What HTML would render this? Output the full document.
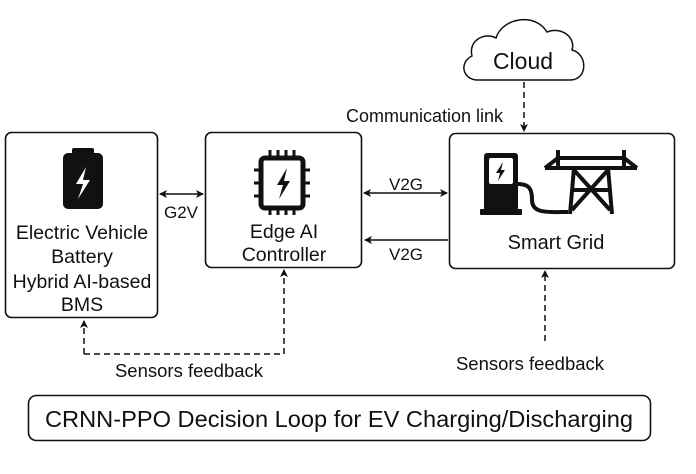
<!DOCTYPE html>
<html><head><meta charset="utf-8"><style>
html,body{margin:0;padding:0;background:#fff;}
svg{display:block;}
text{font-family:"Liberation Sans",Arial,sans-serif;fill:#111;}
</style></head><body>
<svg width="696" height="474" viewBox="0 0 696 474" xmlns="http://www.w3.org/2000/svg">
<defs>
<marker id="ah" markerWidth="8" markerHeight="8" refX="7" refY="4" orient="auto-start-reverse" markerUnits="userSpaceOnUse">
<path d="M0,0 L8,4 L0,8 L2,4 z" fill="#111"/>
</marker>
</defs>
<rect width="696" height="474" fill="#fff"/>
<rect x="5.5" y="132.5" width="152" height="185" rx="6" fill="none" stroke="#111" stroke-width="1.6"/>
<rect x="205.5" y="132.5" width="156" height="135" rx="6" fill="none" stroke="#111" stroke-width="1.6"/>
<rect x="449.5" y="133.5" width="225" height="135" rx="6" fill="none" stroke="#111" stroke-width="1.6"/>
<rect x="28.5" y="395.5" width="622" height="45" rx="8" fill="none" stroke="#111" stroke-width="1.6"/>
<path d="M478,80 C462,80 459,62 472,56 C468,40 485,32 496,38 C502,18 535,12 547,32 C562,26 576,38 572,50 C588,54 588,80 570,80 Z" fill="#fff" stroke="#111" stroke-width="1.5"/>
<text x="523" y="69" font-size="23" text-anchor="middle">Cloud</text>
<line x1="524" y1="82" x2="524" y2="131" stroke="#111" stroke-width="1.5" stroke-dasharray="6,4" marker-end="url(#ah)"/>
<text x="346" y="122" font-size="18" textLength="157" lengthAdjust="spacingAndGlyphs">Communication link</text>
<rect x="63" y="153" width="40" height="56" rx="5" fill="#111"/>
<rect x="72" y="148" width="22" height="7" rx="2" fill="#111"/>
<path d="M86,167 L76,184 L83,184 L78,199 L90,180 L83,180 Z" fill="#fff"/>
<rect x="261" y="158" width="42" height="50" rx="4" fill="none" stroke="#111" stroke-width="5"/>
<g stroke="#111" stroke-width="3">
<line x1="270" y1="150" x2="270" y2="158"/><line x1="278" y1="150" x2="278" y2="158"/><line x1="286" y1="150" x2="286" y2="158"/><line x1="294" y1="150" x2="294" y2="158"/>
<line x1="270" y1="208" x2="270" y2="215"/><line x1="278" y1="208" x2="278" y2="215"/><line x1="286" y1="208" x2="286" y2="215"/><line x1="294" y1="208" x2="294" y2="215"/>
<line x1="254" y1="170" x2="261" y2="170"/><line x1="254" y1="183" x2="261" y2="183"/><line x1="254" y1="196" x2="261" y2="196"/>
<line x1="303" y1="170" x2="310" y2="170"/><line x1="303" y1="183" x2="310" y2="183"/><line x1="303" y1="196" x2="310" y2="196"/>
</g>
<path d="M287,168 L277,185 L283,185 L279,199 L290,181 L284,181 Z" fill="#111"/>
<rect x="484" y="153" width="34" height="58" rx="3" fill="#111"/>
<rect x="480" y="209" width="42" height="6" rx="1" fill="#111"/>
<rect x="489" y="158" width="24" height="26" rx="2" fill="#fff"/>
<path d="M503,162 L496,173 L500,173 L498,181 L505,170 L501,170 Z" fill="#111"/>
<path d="M518,184 C530,184 532,190 532,200 C532,214 548,212 568,212" fill="none" stroke="#111" stroke-width="4"/>
<g stroke="#111" stroke-width="4" fill="none" stroke-linejoin="round">
<line x1="558" y1="150" x2="558" y2="168"/><line x1="624" y1="150" x2="624" y2="168"/>
<path d="M545,168 L637,168"/>
<path d="M545,168 L558,158 L624,158 L637,168"/>
<path d="M574,168 L570,214 M608,168 L612,214"/>
<path d="M574,170 L610,210 M608,170 L572,210"/>
<path d="M573,190 L609,190"/>
</g>
<text x="82" y="239" font-size="19.5" text-anchor="middle">Electric Vehicle</text>
<text x="82" y="263" font-size="19.5" text-anchor="middle">Battery</text>
<text x="82" y="288" font-size="19.5" text-anchor="middle">Hybrid AI-based</text>
<text x="82" y="311" font-size="19.5" text-anchor="middle">BMS</text>
<text x="284" y="238" font-size="19.5" text-anchor="middle">Edge AI</text>
<text x="284" y="261" font-size="19.5" text-anchor="middle">Controller</text>
<text x="556" y="249" font-size="20" text-anchor="middle">Smart Grid</text>
<line x1="160" y1="194" x2="203" y2="194" stroke="#111" stroke-width="1.5" marker-start="url(#ah)" marker-end="url(#ah)"/>
<text x="181" y="218" font-size="17" text-anchor="middle">G2V</text>
<line x1="364" y1="193" x2="447" y2="193" stroke="#111" stroke-width="1.5" marker-start="url(#ah)" marker-end="url(#ah)"/>
<text x="406" y="190" font-size="17" text-anchor="middle">V2G</text>
<line x1="448" y1="240" x2="365" y2="240" stroke="#111" stroke-width="1.5" marker-end="url(#ah)"/>
<text x="406" y="260" font-size="17" text-anchor="middle">V2G</text>
<path d="M84,354 L84,321" fill="none" stroke="#111" stroke-width="1.5" stroke-dasharray="6,4" marker-end="url(#ah)"/>
<path d="M84,354 L284,354 L284,270" fill="none" stroke="#111" stroke-width="1.5" stroke-dasharray="6,4" marker-end="url(#ah)"/>
<text x="189" y="377" font-size="18.5" text-anchor="middle">Sensors feedback</text>
<line x1="545" y1="341" x2="545" y2="271" stroke="#111" stroke-width="1.5" stroke-dasharray="6,4" marker-end="url(#ah)"/>
<text x="530" y="370" font-size="18.5" text-anchor="middle">Sensors feedback</text>
<text x="339" y="427" font-size="23" text-anchor="middle" textLength="588" lengthAdjust="spacingAndGlyphs">CRNN-PPO Decision Loop for EV Charging/Discharging</text>
</svg>
</body></html>
